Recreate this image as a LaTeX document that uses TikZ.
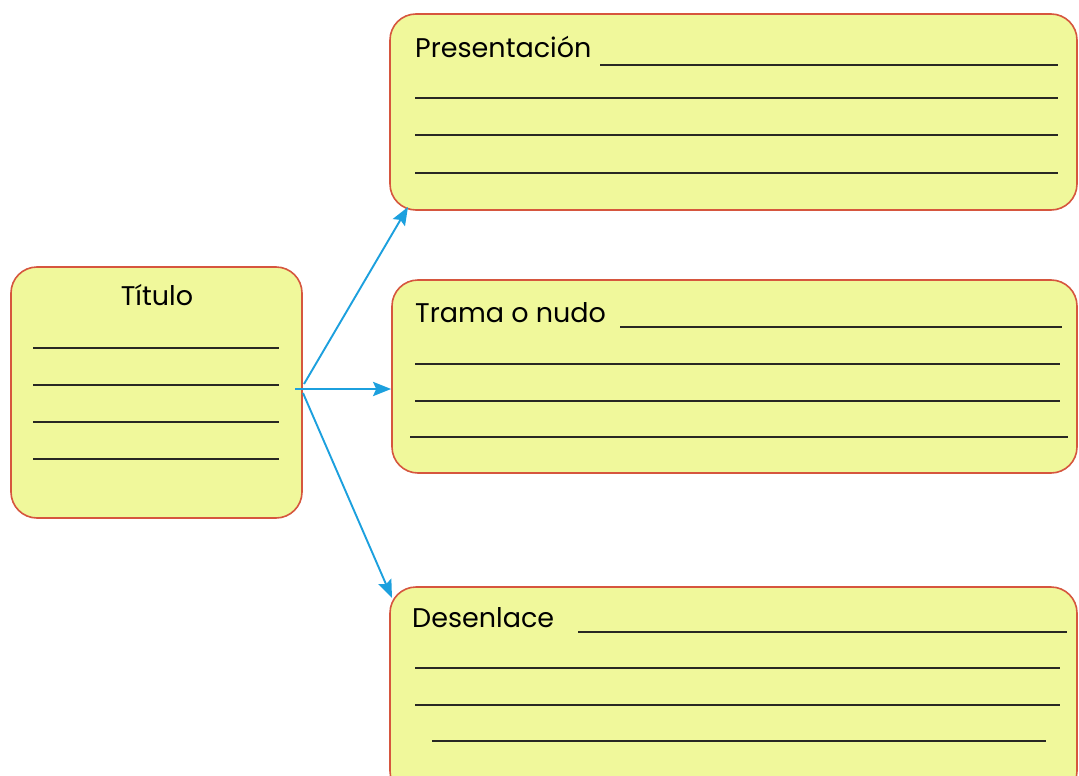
\documentclass[tikz,border=0pt]{standalone}
\usepackage{fontspec}
\setmainfont{Poppins}
\usetikzlibrary{arrows.meta}
\definecolor{boxfill}{RGB}{240,248,155}
\definecolor{boxdraw}{RGB}{214,86,62}
\definecolor{arrowc}{RGB}{28,160,222}
\definecolor{linec}{RGB}{40,40,35}
\tikzset{
  card/.style={draw=boxdraw, fill=boxfill, line width=1.6pt, rounded corners=26pt, inner sep=0pt},
  wline/.style={draw=linec, line width=2.6pt},
  label/.style={font=\fontsize{27}{31}\selectfont, text=black, inner sep=0pt},
  conn/.style={draw=arrowc, line width=1.9pt, -{Stealth[length=18pt,width=14pt,inset=3pt]}}
}
\begin{document}
\begin{tikzpicture}[x=1pt,y=-1pt]
\useasboundingbox (0,0) rectangle (1079,776);
\clip (0,0) rectangle (1079,776);
\fill[white] (0,0) rectangle (1079,776);
% boxes
\node[card, minimum width=291pt, minimum height=251pt] (tit) at (156.5,392.5) {};
\node[card, minimum width=687pt, minimum height=196pt] (pres) at (733.5,112) {};
\node[card, minimum width=685pt, minimum height=193pt] (trama) at (734.5,376.5) {};
\node[card, minimum width=687pt, minimum height=210pt] (des) at (733.5,692) {};
% texts
\node[label, anchor=base] (ttit) at (157,305) {Título};
\node[label, anchor=base west] (tpres) at (415,58) {Presentación};
\node[label, anchor=base west] (ttrama) at (415,322) {Trama o nudo};
\node[label, anchor=base west] (tdes) at (412,627) {Desenlace};
% writing lines
\foreach \y in {348,385,422,459} \draw[wline] (33,\y) -- (279,\y);
\draw[wline] (600,65) -- (1058,65);
\foreach \y in {98,135,173} \draw[wline] (415,\y) -- (1058,\y);
\draw[wline] (620,327) -- (1062,327);
\foreach \y in {364,401} \draw[wline] (415,\y) -- (1060,\y);
\draw[wline] (410,437) -- (1068,437);
\draw[wline] (578,632) -- (1067,632);
\foreach \y in {668,705} \draw[wline] (415,\y) -- (1060,\y);
\draw[wline] (432,741) -- (1046,741);
% connectors
\coordinate (s1) at (304,384);
\coordinate (s2) at (295,389);
\coordinate (s3) at (303,393);
\coordinate (e1) at (408,207);
\coordinate (e3) at (392,598);
\draw[conn] (s1) -- (e1);
\draw[conn, line width=2.8pt] (s2) -- (trama.west |- s2);
\draw[conn] (s3) -- (e3);
\end{tikzpicture}
\end{document}
